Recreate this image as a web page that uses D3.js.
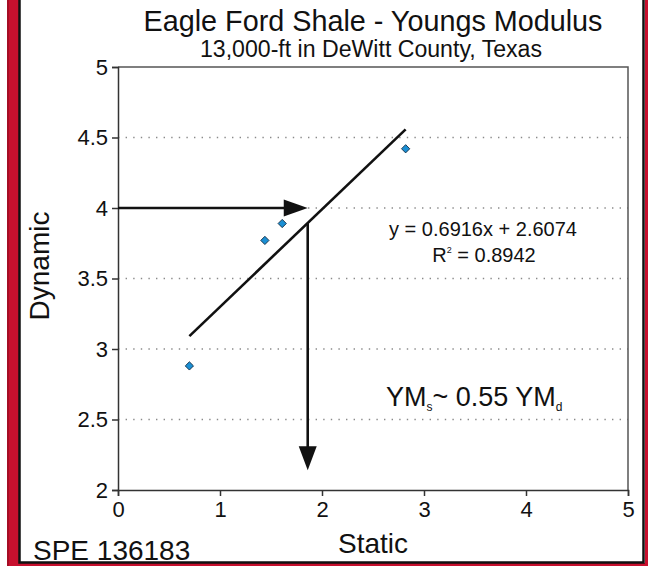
<!DOCTYPE html>
<html><head><meta charset="utf-8">
<script src="https://cdn.jsdelivr.net/npm/d3@7"></script>
<style>
html,body{margin:0;padding:0;background:#fff;}
svg{display:block;font-family:"Liberation Sans",Arial,Helvetica,sans-serif;}
</style></head>
<body>
<svg id="chart" width="648" height="566"></svg>
<script>
// ---- data ----
const staticVals  = [0.70, 1.44, 1.61, 2.82];
const dynamicVals = [2.88, 3.77, 3.89, 4.42];
const xTicks = [0, 1, 2, 3, 4, 5];
const yTicks = [2, 2.5, 3, 3.5, 4, 4.5, 5];
const gridVals = [2.5, 3, 3.5, 4, 4.5];
const slope = 0.6916, intercept = 2.6074, r2 = 0.8942;
const trendRange = [0.70, 2.82];
const arrowH = [0, 1.86, 4];          // x from, x to, y
const arrowV = [1.86, 2.14];          // x, y tip (starts on trend line)

const svg = d3.select("#chart");
const W = 648, H = 566;

// frame
svg.append("rect").attr("x",0).attr("y",0).attr("width",W).attr("height",H).attr("fill","#fff");
svg.append("rect").attr("x",7).attr("y",0).attr("width",12).attr("height",H).attr("fill","#c8102e");
svg.append("rect").attr("x",7).attr("y",0).attr("width",2).attr("height",H).attr("fill","#a50d25");
svg.append("rect").attr("x",19).attr("y",563).attr("width",W-19).attr("height",3).attr("fill","#c8102e");
svg.append("rect").attr("x",645).attr("y",0).attr("width",3).attr("height",H).attr("fill","#c8102e");
svg.append("path").attr("d","M19.5,0V562.5H643.5V0").attr("fill","none").attr("stroke","#111").attr("stroke-width",2.5);

const x = d3.scaleLinear().domain([0,5]).range([118,628]);
const y = d3.scaleLinear().domain([2,5]).range([490,67]);

// gridlines
svg.append("g").selectAll("line").data(gridVals).join("line")
  .attr("x1",x(0)).attr("x2",x(5)).attr("y1",d=>y(d)).attr("y2",d=>y(d))
  .attr("stroke","#8a8a8a").attr("stroke-width",1.4).attr("stroke-dasharray","1.4,6.2");

// plot border (top/right)
svg.append("path").attr("d",`M${x(0)},${y(5)}H${x(5)}V${y(2)}`)
  .attr("fill","none").attr("stroke","#555").attr("stroke-width",1.5);

// axes
const yAxis = svg.append("g").attr("transform",`translate(${x(0)},0)`)
  .call(d3.axisLeft(y).tickValues(yTicks).tickFormat(d=>String(d)).tickSize(6).tickPadding(4));
const xAxis = svg.append("g").attr("transform",`translate(0,${y(2)})`)
  .call(d3.axisBottom(x).tickValues(xTicks).tickFormat(d=>String(d)).tickSize(6).tickPadding(5));
[yAxis,xAxis].forEach(g=>{
  g.select(".domain").attr("stroke","#333").attr("stroke-width",1.5);
  g.selectAll(".tick line").attr("stroke","#333").attr("stroke-width",1.5);
  g.selectAll(".tick text").attr("fill","#111").style("font-size","22px")
   .style("font-family","'Liberation Sans',Arial,sans-serif");
});

// trend line
svg.append("line")
  .attr("x1",x(trendRange[0])).attr("y1",y(slope*trendRange[0]+intercept))
  .attr("x2",x(trendRange[1])).attr("y2",y(slope*trendRange[1]+intercept))
  .attr("stroke","#111").attr("stroke-width",2.6);

// arrows
const hx0=x(arrowH[0]), hx1=x(arrowH[1]), hy=y(arrowH[2]);
svg.append("line").attr("x1",hx0).attr("x2",hx1-20).attr("y1",hy).attr("y2",hy)
  .attr("stroke","#111").attr("stroke-width",2.6);
svg.append("path").attr("d",`M${hx1},${hy}L${hx1-24},${hy-8.5}L${hx1-24},${hy+8.5}Z`).attr("fill","#111");
const vx=x(arrowV[0]), vy0=y(slope*arrowV[0]+intercept), vy1=y(arrowV[1]);
svg.append("line").attr("x1",vx).attr("x2",vx).attr("y1",vy0).attr("y2",vy1-20)
  .attr("stroke","#111").attr("stroke-width",2.6);
svg.append("path").attr("d",`M${vx},${vy1}L${vx-9},${vy1-24}L${vx+9},${vy1-24}Z`).attr("fill","#111");

// points
svg.append("g").selectAll("path").data(staticVals.map((s,i)=>[s,dynamicVals[i]])).join("path")
  .attr("d",d3.symbol().type(d3.symbolSquare).size(34))
  .attr("transform",d=>`translate(${x(d[0])},${y(d[1])}) rotate(45)`)
  .attr("fill","#1a8fd4").attr("stroke","#16324a").attr("stroke-width",0.9);

// texts
svg.append("text").attr("x",373).attr("y",31).attr("text-anchor","middle")
  .attr("textLength",459).attr("lengthAdjust","spacingAndGlyphs")
  .style("font-size","29px").attr("fill","#111").text("Eagle Ford Shale - Youngs Modulus");
svg.append("text").attr("x",371).attr("y",57).attr("text-anchor","middle")
  .attr("textLength",342).attr("lengthAdjust","spacingAndGlyphs")
  .style("font-size","23px").attr("fill","#111").text("13,000-ft in DeWitt County, Texas");
svg.append("text").attr("x",373).attr("y",553).attr("text-anchor","middle")
  .style("font-size","28px").attr("fill","#111").text("Static");
svg.append("text").attr("transform","translate(49,266) rotate(-90)").attr("text-anchor","middle")
  .style("font-size","28px").attr("fill","#111").text("Dynamic");
svg.append("text").attr("x",33).attr("y",560)
  .style("font-size","28px").attr("fill","#111").text("SPE 136183");

svg.append("text").attr("x",483).attr("y",236).attr("text-anchor","middle")
  .style("font-size","20px").attr("fill","#111")
  .text(`y = ${slope}x + ${intercept}`);
const rt = svg.append("text").attr("x",484).attr("y",262).attr("text-anchor","middle")
  .style("font-size","20px").attr("fill","#111");
rt.append("tspan").text("R");
rt.append("tspan").attr("dy",-9).style("font-size","9px").text("2");
rt.append("tspan").attr("dy",9).text(` = ${r2}`);

const ym = svg.append("text").attr("x",386).attr("y",406)
  .style("font-size","27px").attr("fill","#111");
ym.append("tspan").text("YM");
ym.append("tspan").attr("dy",5).style("font-size","12px").text("s");
ym.append("tspan").attr("dy",-5).text("~ 0.55 YM");
ym.append("tspan").attr("dy",5).style("font-size","12px").text("d");
</script>
</body></html>
